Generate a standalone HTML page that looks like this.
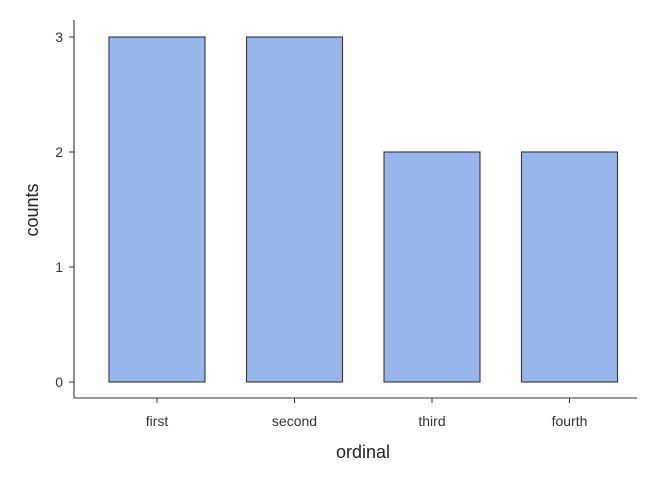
<!DOCTYPE html>
<html>
<head>
<meta charset="utf-8">
<style>
  html,body{margin:0;padding:0;background:#fff;}
  svg text{font-family:"Liberation Sans",sans-serif;}
</style>
</head>
<body>
<svg id="chart" width="672" height="480" viewBox="0 0 672 480">
  <line x1="74" y1="20" x2="74" y2="398" stroke="#333" stroke-width="1.1"/>
  <line x1="74" y1="398" x2="637" y2="398" stroke="#333" stroke-width="1.1"/>
  <g id="bars"></g>
  <g id="yticks"></g>
  <g id="xticks"></g>
  <text x="363" y="458" font-size="18" text-anchor="middle" fill="#222">ordinal</text>
  <text transform="translate(38,210) rotate(-90)" font-size="18" text-anchor="middle" fill="#222">counts</text>
</svg>
<script>
const categories = ["first","second","third","fourth"];
const counts = [3,3,2,2];
const yTickValues = [0,1,2,3];
const yTickLabels = ["0","1","2","3"];

const NS = "http://www.w3.org/2000/svg";
function yScale(v){ return 382 - v*115; }
function xCenter(i){ return 157 + i*137.5; }
const barW = 96;

const gb = document.getElementById('bars');
categories.forEach((c,i)=>{
  const r = document.createElementNS(NS,'rect');
  const y = yScale(counts[i]);
  r.setAttribute('x', xCenter(i)-barW/2);
  r.setAttribute('y', y);
  r.setAttribute('width', barW);
  r.setAttribute('height', yScale(0)-y);
  r.setAttribute('fill', '#97b6ec');
  r.setAttribute('stroke', '#333');
  r.setAttribute('stroke-width', '1.1');
  
  
  gb.appendChild(r);
});

const gy = document.getElementById('yticks');
yTickValues.forEach((v,i)=>{
  const y = yScale(v);
  const l = document.createElementNS(NS,'line');
  l.setAttribute('x1',69); l.setAttribute('x2',74);
  l.setAttribute('y1',y); l.setAttribute('y2',y);
  l.setAttribute('stroke','#333');
  
  
  gy.appendChild(l);
  const t = document.createElementNS(NS,'text');
  t.setAttribute('x',63); t.setAttribute('y',y+5);
  t.setAttribute('font-size','14'); t.setAttribute('text-anchor','end'); t.setAttribute('fill','#333');
  t.textContent = yTickLabels[i];
  
  
  gy.appendChild(t);
});

const gx = document.getElementById('xticks');
categories.forEach((c,i)=>{
  const x = xCenter(i);
  const l = document.createElementNS(NS,'line');
  l.setAttribute('x1',x); l.setAttribute('x2',x);
  l.setAttribute('y1',398); l.setAttribute('y2',403);
  l.setAttribute('stroke','#333');
  
  
  gx.appendChild(l);
  const t = document.createElementNS(NS,'text');
  t.setAttribute('x',x); t.setAttribute('y',426);
  t.setAttribute('font-size','14'); t.setAttribute('text-anchor','middle'); t.setAttribute('fill','#333');
  t.textContent = c;
  
  
  gx.appendChild(t);
});
</script>
</body>
</html>
